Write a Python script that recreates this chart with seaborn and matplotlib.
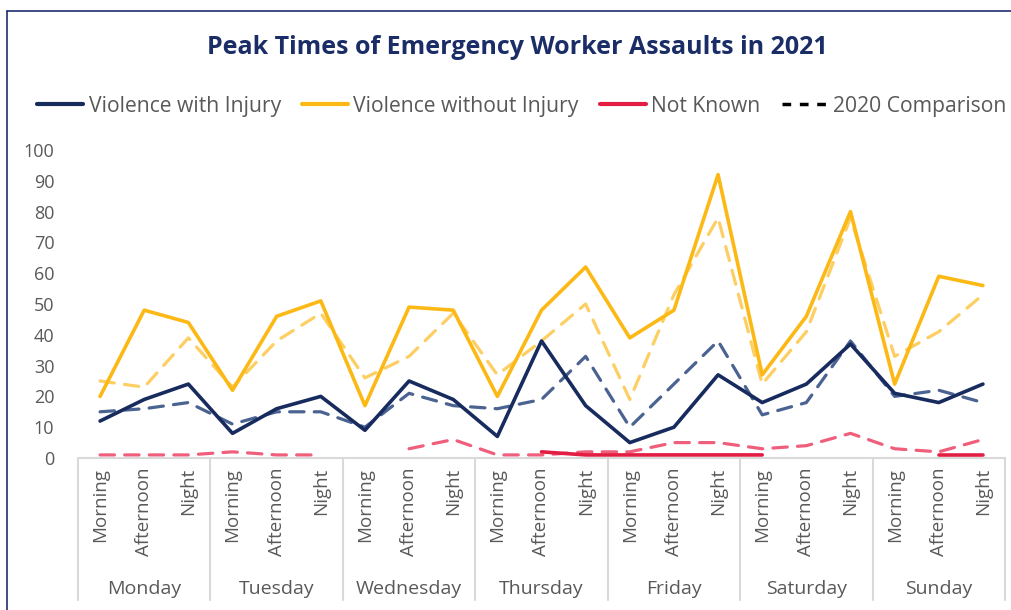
import numpy as np
import pandas as pd
import matplotlib
matplotlib.use("Agg")
import matplotlib.pyplot as plt
from matplotlib.lines import Line2D
import matplotlib.transforms as mtransforms
import seaborn as sns

days = ["Monday", "Tuesday", "Wednesday", "Thursday", "Friday", "Saturday", "Sunday"]
times = ["Morning", "Afternoon", "Night"]

vwi_2021 = [12, 19, 24, 8, 16, 20, 9, 25, 19, 7, 38, 17, 5, 10, 27, 18, 24, 37, 21, 18, 24]
vwoi_2021 = [20, 48, 44, 22, 46, 51, 17, 49, 48, 20, 48, 62, 39, 48, 92, 27, 46, 80, 24, 59, 56]
nk_2021 = [np.nan] * 10 + [2, 1, 1, 1, 1, 1] + [np.nan] * 3 + [1, 1]

vwi_2020 = [15, 16, 18, 11, 15, 15, 10, 21, 17, 16, 19, 33, 10, 24, 38, 14, 18, 38, 20, 22, 18]
vwoi_2020 = [25, 23, 39, 23, 38, 47, 26, 33, 47, 27, 38, 50, 19, 53, 78, 24, 41, 78, 33, 41, 53]
nk_2020 = [1, 1, 1, 2, 1, 1, np.nan, 3, 6, 1, 1, 2, 2, 5, 5, 3, 4, 8, 3, 2, 6]

NAVY = "#172b5e"
YELLOW = "#fcb916"
RED = "#e31e43"
NAVY_D = "#4a6391"
YELLOW_D = "#fdcf63"
PINK_D = "#ef5f7c"
GREY = "#595959"

sns.set_style("white")
plt.rcParams["font.family"] = ["Open Sans", "DejaVu Sans"]

fig = plt.figure(figsize=(10.12, 6.10), dpi=100)
ax = fig.add_axes([78 / 1012, 1 - 458 / 610, (1005 - 78) / 1012, (458 - 150) / 610])

pos = np.arange(len(vwi_2021))


def draw(values, color, lw, dashes=None, z=2):
    vals = np.asarray(values, dtype=float)
    seg = np.cumsum(np.isnan(vals))
    df = pd.DataFrame({"x": pos, "y": vals, "seg": seg}).dropna()
    for _, part in df.groupby("seg"):
        if len(part) < 2:
            continue
        line = sns.lineplot(data=part, x="x", y="y", color=color, linewidth=lw, ax=ax,
                            zorder=z, legend=False)
        ln = line.lines[-1]
        if dashes is not None:
            ln.set_dashes(dashes)
        ln.set_solid_capstyle("round")
        ln.set_dash_capstyle("round")
        ln.set_clip_on(False)


draw(vwoi_2020, YELLOW_D, 2.3, dashes=(4.5, 3.2), z=2)
draw(vwi_2020, NAVY_D, 2.3, dashes=(4.5, 3.2), z=2)
draw(nk_2020, PINK_D, 2.3, dashes=(4.5, 3.2), z=2)
draw(vwoi_2021, YELLOW, 2.6, z=3)
draw(vwi_2021, NAVY, 2.6, z=3)
draw(nk_2021, RED, 2.6, z=3)

ax.set_xlim(-0.5, 20.5)
ax.set_ylim(0, 100)
ax.set_yticks(range(0, 101, 10))
ax.tick_params(axis="y", length=0, pad=17, labelsize=13, labelcolor=GREY)
ax.set_xticks(pos)
ax.set_xticklabels(times * 7, rotation=90, fontsize=13.5, color=GREY)
ax.tick_params(axis="x", length=0, pad=7)
ax.set_xlabel("")
ax.set_ylabel("")
for s in ["top", "right", "left"]:
    ax.spines[s].set_visible(False)
ax.spines["bottom"].set_color("#d9d9d9")
ax.spines["bottom"].set_linewidth(1.5)
ax.grid(False)

trans = mtransforms.blended_transform_factory(ax.transData, ax.transAxes)
bottom_frac = -(600 - 458) / 308
for k in range(8):
    xe = k * 3 - 0.5
    ax.add_line(Line2D([xe, xe], [0, bottom_frac], transform=trans, color="#d9d9d9",
                       lw=1.5, clip_on=False))
day_y = -(589 - 458) / 308
for k, d in enumerate(days):
    ax.text(k * 3 + 1, day_y, d, transform=trans, ha="center", va="center",
            fontsize=14, color=GREY)

fig.text(517 / 1012, 1 - 47 / 610, "Peak Times of Emergency Worker Assaults in 2021",
         ha="center", va="center", fontsize=18, fontweight="bold", color="#1b2d66")

handles = [
    Line2D([], [], color=NAVY, lw=3),
    Line2D([], [], color=YELLOW, lw=3),
    Line2D([], [], color=RED, lw=3),
    Line2D([], [], color="black", lw=2.5, dashes=(2.5, 2.5)),
]
labels = ["Violence with Injury", "Violence without Injury", "Not Known", "2020 Comparison"]
leg = fig.legend(handles, labels, loc="center left", bbox_to_anchor=(37 / 1012, 1 - 106 / 610),
                 ncol=4, frameon=False, fontsize=15.2, handlelength=2.2, handletextpad=0.24,
                 columnspacing=1.0, borderaxespad=0, borderpad=0)
for t in leg.get_texts():
    t.set_color(GREY)

fig.add_artist(Line2D([7.5 / 1012, 1.0], [1 - 11 / 610, 1 - 11 / 610], color="#1f2f6e", lw=1.2))
fig.add_artist(Line2D([7.5 / 1012, 7.5 / 1012], [0, 1 - 11 / 610], color="#1f2f6e", lw=1.2))

fig.savefig("out.png", dpi=100)
